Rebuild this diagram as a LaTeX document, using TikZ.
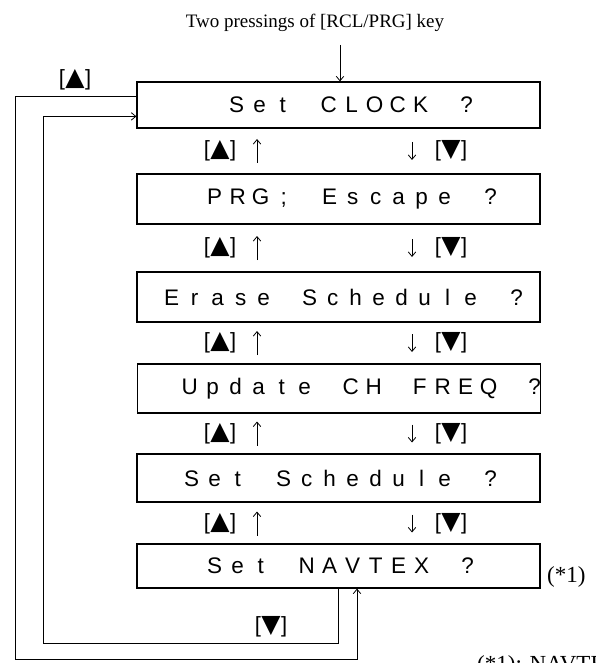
\documentclass[tikz,border=0pt]{standalone}
\usepackage{fontspec}
\setmainfont{Liberation Serif}
\newfontfamily\lcdfont{Liberation Sans}
\newfontfamily\symfont{DejaVu Sans}
\usetikzlibrary{arrows.meta}
\ExplSyntaxOn
\NewDocumentCommand\lcd{m}{\str_map_inline:nn{#1}{\makebox[23pt][c]{##1}}}
\ExplSyntaxOff
\newcommand\keyup{{\lcdfont[}\kern0.5pt{\symfont\fontsize{25}{25}\selectfont ▲}\kern0.5pt{\lcdfont]}}
\newcommand\keydown{{\lcdfont[}\kern0.5pt{\symfont\fontsize{25}{25}\selectfont ▼}\kern0.5pt{\lcdfont]}}
\begin{document}
\begin{tikzpicture}[x=1pt,y=-1pt,
  box/.style={draw, line width=1.2pt, inner sep=0pt, minimum width=403pt},
  lcdtxt/.style={anchor=west, inner sep=0pt, font=\lcdfont\fontsize{22.5}{26}\selectfont},
  keylbl/.style={inner sep=0pt, font=\lcdfont\fontsize{22}{24}\selectfont},
  note/.style={inner sep=0pt, font=\fontsize{23}{26}\selectfont},
  wire/.style={line width=0.8pt},
  arr/.style={wire, -{Straight Barb[length=4.5pt,width=7.5pt]}}]
\clip (0,0) rectangle (595,663);
\fill[white] (0,0) rectangle (595,663);
% boxes
\node[box, minimum height=46pt] (b1) at (338.5,105) {};
\node[box, minimum height=50pt] (b2) at (338.5,199) {};
\node[box, minimum height=50pt] (b3) at (338.5,297) {};
\node[box, minimum height=49pt] (b4) at (339,388.5) {};
\node[box, minimum height=48pt] (b5) at (338.5,478) {};
\node[box, minimum height=44pt] (b6) at (338.5,566) {};
% display texts
\node[lcdtxt] (t1) at (225,105) {\lcd{Set CLOCK ?}};
\node[lcdtxt] (t2) at (203,199) {\lcd{PRG; Escape ?}};
\node[lcdtxt] (t3) at (160,297) {\lcd{Erase Schedule ?}};
\node[lcdtxt] (t4) at (178,388.5) {\lcd{Update CH FREQ ?}};
\node[lcdtxt] (t5) at (180,478) {\lcd{Set Schedule ?}};
\node[lcdtxt] (t6) at (203,566) {\lcd{Set NAVTEX ?}};
% key labels and small arrows between boxes
\foreach \u/\y in {b1/151, b2/248, b3/343, b4/433.5, b5/523.5}{
  \node[keylbl] (ku\u) at (220,\y) {\keyup};
  \coordinate (ua\u) at (257,\y+12);
  \coordinate (ub\u) at (257,\y-12);
  \draw[arr] (ua\u) -- (ub\u);
  \coordinate (da\u) at (412,\y-9);
  \coordinate (db\u) at (412,\y+9);
  \draw[arr] (da\u) -- (db\u);
  \node[keylbl] (kd\u) at (451,\y) {\keydown};
}
% title
\node[inner sep=0pt, font=\fontsize{19}{22}\selectfont] (title) at (315,23) {Two pressings of [RCL/PRG] key};
\coordinate (tin) at (340,45);
\draw[arr] (tin) -- (tin |- b1.north);
% loops
\coordinate (oc) at (15,659);
\coordinate (ic) at (43,643);
\draw[arr] ([yshift=-15pt]b1.north west) -| (oc) -| ([xshift=18.5pt]b6.south);
\draw[arr] (b6.south) |- (ic) |- ([yshift=-35pt]b1.north west);
\node[keylbl] (lup) at (75,80) {\keyup};
\node[keylbl] (ldn) at (271,627) {\keydown};
% notes
\node[note, anchor=west] (n1) at (547,577) {(*1)};
\node[note, anchor=base west] (foot) at (477,671) {(*1): NAVTEX};
\end{tikzpicture}
\end{document}
